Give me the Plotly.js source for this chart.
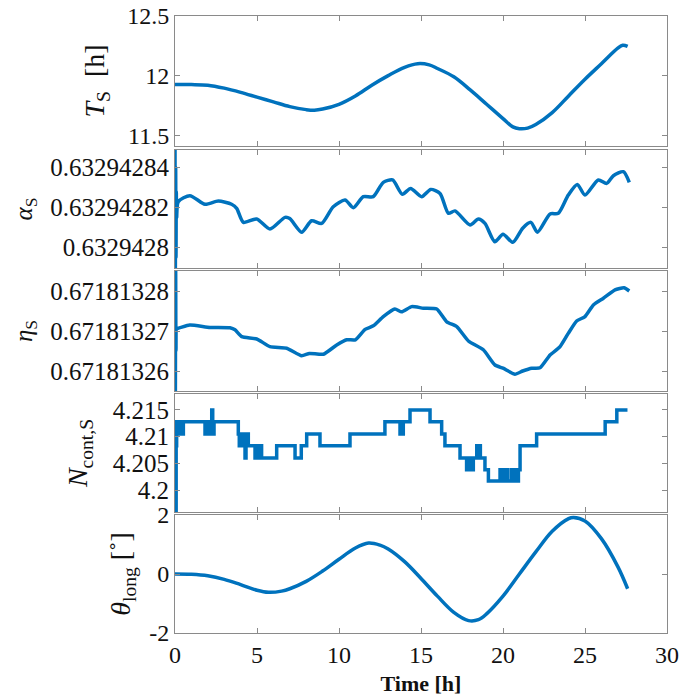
<!DOCTYPE html>
<html>
<head>
<meta charset="utf-8">
<script src="https://cdn.plot.ly/plotly-3.0.1.min.js"></script>
<style>html,body{margin:0;padding:0;background:#fff;}#chart{width:694px;height:700px;}</style>
</head>
<body>
<div id="chart"></div>
<script>
// ---- Panel 1: T_S [h]
const tT = [0, 1, 2, 3, 4, 5, 6, 7, 8, 8.5, 9, 10, 11, 12, 13, 14, 14.8, 15.5, 16, 17, 18, 19, 20, 20.6, 21, 21.5, 22, 23, 24, 25, 26, 27, 27.3, 27.6];
const Ts = [11.925, 11.925, 11.92, 11.895, 11.86, 11.82, 11.78, 11.74, 11.715, 11.71, 11.72, 11.76, 11.83, 11.92, 12.0, 12.07, 12.1, 12.09, 12.06, 11.99, 11.88, 11.76, 11.64, 11.57, 11.555, 11.56, 11.59, 11.69, 11.83, 11.97, 12.1, 12.23, 12.255, 12.245];

// ---- Panel 2: alpha_S
const tA = [0, 0.02, 0.04, 0.06, 0.08, 0.1, 0.2, 0.91, 1.83, 2.64, 3.45, 3.76, 4.17, 4.98, 5.79, 6.71, 7.0, 7.72, 8.33, 8.94, 9.65, 10.37, 10.87, 11.48, 12.09, 12.7, 13.27, 13.86, 14.37, 15.04, 15.59, 16.16, 16.67, 17.07, 17.99, 18.5, 18.9, 19.5, 20.0, 20.6, 21.2, 21.7, 22.1, 22.87, 23.37, 23.98, 24.53, 25.0, 25.81, 26.32, 26.73, 27.34, 27.7];
const alphaS = [0.632942855, 0.632942785, 0.63294284, 0.632942795, 0.632942828, 0.632942815, 0.6329428229, 0.6329428259, 0.6329428216, 0.6329428232, 0.6329428216, 0.6329428196, 0.6329428126, 0.6329428143, 0.6329428093, 0.6329428151, 0.6329428145, 0.6329428077, 0.6329428134, 0.6329428121, 0.6329428204, 0.6329428237, 0.6329428199, 0.6329428254, 0.6329428254, 0.6329428325, 0.6329428337, 0.6329428266, 0.6329428295, 0.6329428254, 0.632942829, 0.632942827, 0.6329428171, 0.6329428183, 0.6329428113, 0.6329428143, 0.6329428121, 0.632942803, 0.6329428067, 0.6329428027, 0.6329428097, 0.6329428126, 0.6329428077, 0.6329428168, 0.6329428171, 0.6329428262, 0.6329428315, 0.6329428262, 0.6329428337, 0.632942832, 0.6329428358, 0.6329428378, 0.6329428325];

// ---- Panel 3: eta_S
const tE = [0, 0.02, 0.04, 0.06, 0.1, 0.2, 0.9, 2.13, 3.35, 3.66, 4.07, 4.98, 5.79, 6.81, 7.72, 8.2, 9.05, 9.86, 10.47, 11.0, 11.59, 12.09, 12.7, 13.41, 13.82, 14.43, 15.14, 15.96, 16.57, 17.18, 17.89, 18.8, 19.51, 20.0, 20.73, 21.2, 21.75, 22.26, 22.87, 23.48, 23.98, 24.49, 25.0, 25.51, 26.12, 26.83, 27.38, 27.7];
const etaS = [0.67181329, 0.67181325, 0.671813286, 0.671813265, 0.6718132707, 0.6718132707, 0.6718132715, 0.6718132709, 0.6718132708, 0.6718132703, 0.6718132686, 0.671813268, 0.6718132661, 0.6718132657, 0.6718132638, 0.6718132644, 0.6718132642, 0.6718132665, 0.6718132678, 0.6718132678, 0.6718132704, 0.6718132713, 0.6718132736, 0.6718132755, 0.6718132748, 0.6718132761, 0.6718132757, 0.6718132755, 0.6718132723, 0.6718132711, 0.6718132675, 0.6718132653, 0.6718132615, 0.6718132607, 0.6718132592, 0.67181326, 0.6718132607, 0.6718132608, 0.671813264, 0.6718132661, 0.6718132694, 0.6718132725, 0.6718132736, 0.6718132765, 0.6718132782, 0.6718132803, 0.6718132808, 0.67181328];

// ---- Panel 4: N_cont,S (step)
const tN = [0, 0.06, 0.07, 0.1, 0.15, 0.2, 0.3, 0.4, 0.45, 0.51, 1.83, 1.9, 1.97, 2.05, 2.1, 2.2, 2.24, 2.3, 2.38, 3.86, 3.92, 3.98, 4.05, 4.12, 4.2, 4.27, 4.33, 4.4, 4.47, 4.88, 4.95, 5.05, 5.15, 5.28, 6.2, 7.32, 7.7, 8.03, 8.84, 10.67, 12.8, 13.72, 13.92, 14.33, 15.55, 16.26, 16.46, 17.38, 17.78, 17.85, 17.92, 18.0, 18.1, 18.19, 18.4, 18.47, 18.55, 18.62, 18.7, 18.9, 19.11, 19.82, 19.9, 20.0, 20.1, 20.2, 20.3, 20.53, 20.6, 20.7, 20.8, 20.94, 21.04, 22.05, 26.23, 26.94, 27.59];
const Ncont = [4.19, 4.19, 4.2083, 4.2128, 4.2105, 4.2128, 4.2105, 4.2128, 4.2105, 4.2128, 4.2105, 4.2128, 4.2105, 4.2128, 4.2105, 4.2128, 4.215, 4.2105, 4.2128, 4.2105, 4.2083, 4.2105, 4.2083, 4.2105, 4.2083, 4.206, 4.2083, 4.2105, 4.2083, 4.206, 4.2083, 4.206, 4.2083, 4.206, 4.2083, 4.206, 4.2083, 4.2105, 4.2083, 4.2105, 4.2128, 4.2105, 4.2128, 4.215, 4.2128, 4.2105, 4.2083, 4.206, 4.2038, 4.206, 4.2038, 4.206, 4.2038, 4.206, 4.2083, 4.206, 4.2083, 4.206, 4.206, 4.2038, 4.2017, 4.2038, 4.2017, 4.2038, 4.2017, 4.2038, 4.2017, 4.2038, 4.2017, 4.2038, 4.2017, 4.2038, 4.2083, 4.2105, 4.2128, 4.215, 4.215];

// ---- Panel 5: theta_long [deg]
const tTh = [0, 1, 2, 3, 4, 5, 5.7, 6.5, 7, 8, 9, 10, 11, 11.8, 12.5, 13, 14, 15, 16, 17, 17.9, 18.5, 19, 20, 21, 22, 23, 24, 24.3, 25, 26, 27, 27.6];
const theta = [0, -0.01, -0.06, -0.18, -0.36, -0.55, -0.62, -0.58, -0.5, -0.25, 0.1, 0.5, 0.88, 1.05, 0.98, 0.85, 0.42, -0.15, -0.75, -1.3, -1.58, -1.55, -1.35, -0.75, 0.0, 0.75, 1.45, 1.88, 1.92, 1.8, 1.2, 0.25, -0.5];

// ---- tick labels
const xTicks = [0, 5, 10, 15, 20, 25, 30];
const xTickText = ['0', '5', '10', '15', '20', '25', '30'];
const y1Ticks = [11.5, 12, 12.5], y1Text = ['11.5', '12', '12.5'];
const y2Ticks = [0.6329428, 0.63294282, 0.63294284], y2Text = ['0.6329428', '0.63294282', '0.63294284'];
const y3Ticks = [0.67181326, 0.67181327, 0.67181328], y3Text = ['0.67181326', '0.67181327', '0.67181328'];
const y4Ticks = [4.2, 4.205, 4.21, 4.215], y4Text = ['4.2', '4.205', '4.21', '4.215'];
const y5Ticks = [-2, 0, 2], y5Text = ['-2', '0', '2'];

const BLUE = '#0072BD';
const FRAME = '#8a8a8a';
const FONT = 'Liberation Serif';

function tr(x, y, n, shape, sm) {
  const line = {color: BLUE, width: 3.5, shape: shape || 'linear'};
  if (shape === 'spline') line.smoothing = sm || 1;
  return {x: x, y: y, type: 'scatter', mode: 'lines', xaxis: 'x' + (n === 1 ? '' : n), yaxis: 'y' + (n === 1 ? '' : n),
    line: line, hoverinfo: 'skip', showlegend: false};
}
const data = [
  tr(tT, Ts, 1, 'spline'),
  tr(tA, alphaS, 2, 'spline', 0.7),
  tr(tE, etaS, 3, 'spline', 0.5),
  tr(tN, Ncont, 4, 'hv'),
  tr(tTh, theta, 5, 'spline')
];

function xax(n, show) {
  return {domain: [0, 1], range: [0, 30], anchor: 'y' + (n === 1 ? '' : n), tickmode: 'array', tickvals: xTicks, ticktext: xTickText,
    showticklabels: show, ticks: 'inside', ticklen: 5, tickcolor: FRAME, showline: true, linecolor: FRAME, linewidth: 1,
    mirror: 'ticks', showgrid: false, zeroline: false, tickfont: {family: FONT, size: 24, color: '#111'},
    title: show ? {text: '<b>Time [h]</b>', font: {family: FONT, size: 22, color: '#111'}, standoff: 8} : {text: ''}};
}
function yax(n, dom, range, tv, tt, title, tsize, standoff, fsize) {
  return {domain: dom, range: range, anchor: 'x' + (n === 1 ? '' : n), tickmode: 'array', tickvals: tv, ticktext: tt,
    ticks: 'inside', ticklen: 5, tickcolor: FRAME, showline: true, linecolor: FRAME, linewidth: 1, mirror: 'ticks',
    showgrid: false, zeroline: false, tickfont: {family: FONT, size: fsize, color: '#111'},
    title: {text: title, font: {family: FONT, size: tsize, color: '#111'}, standoff: standoff}};
}
const layout = {
  width: 694, height: 700,
  margin: {l: 175, r: 27, t: 16, b: 67},
  paper_bgcolor: '#fff', plot_bgcolor: '#fff',
  font: {family: FONT, size: 24, color: '#111'},
  xaxis: xax(1, false), xaxis2: xax(2, false), xaxis3: xax(3, false), xaxis4: xax(4, false), xaxis5: xax(5, true),
  yaxis: yax(1, [0.7893, 1.0], [11.41, 12.5], y1Ticks, y1Text, '<i>T</i><sub>S</sub>  [h]', 28, 14, 24),
  yaxis2: yax(2, [0.5916, 0.7828], [0.6329427899, 0.6329428486], y2Ticks, y2Text, '<i>α</i><sub>S</sub>', 25, 10, 25),
  yaxis3: yax(3, [0.3922, 0.5867], [0.671813255, 0.671813285], y3Ticks, y3Text, '<i>η</i><sub>S</sub>', 25, 10, 25),
  yaxis4: yax(4, [0.1961, 0.3874], [4.1959, 4.218], y4Ticks, y4Text, '<i>N</i><sub>cont,S</sub>', 28, 16, 25),
  yaxis5: yax(5, [0, 0.1912], [-2, 2], y5Ticks, y5Text, '<i>θ</i><sub>long</sub> [˚]', 28, 10, 24)
};
Plotly.newPlot('chart', data, layout, {staticPlot: true, displayModeBar: false});
</script>
</body>
</html>
